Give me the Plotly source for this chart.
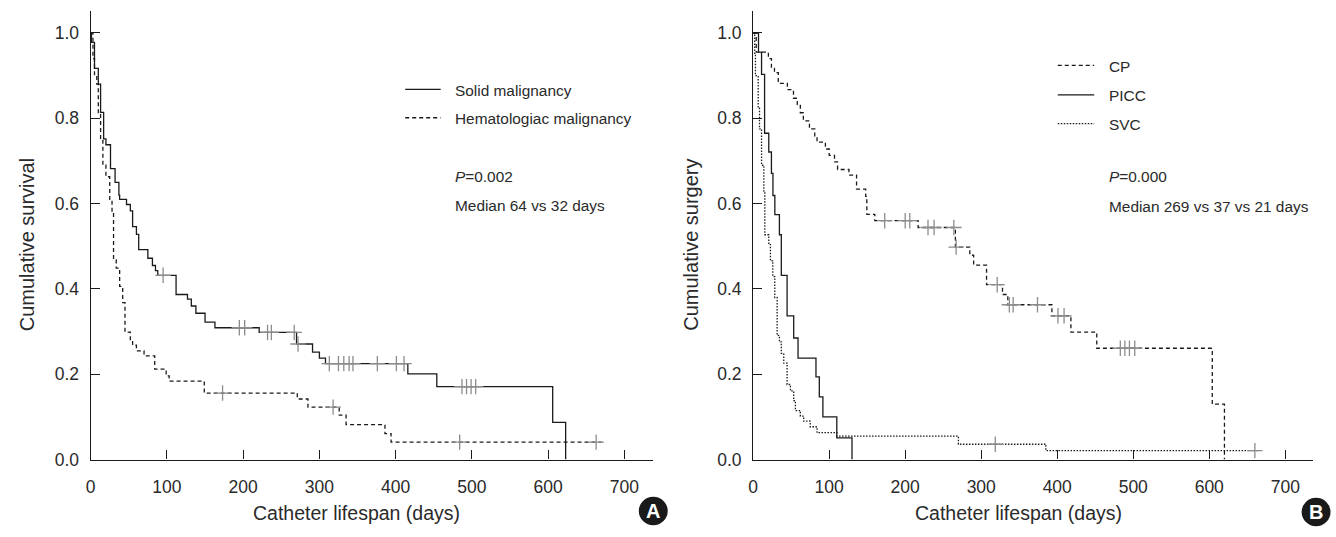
import numpy as np
import plotly.graph_objects as go

# ---------------- Data ----------------
# Panel A
solid_t = [0, 1, 5, 10, 13, 17, 20, 26, 32, 37, 38, 47, 52, 55, 60, 63, 75, 81, 85, 88,
           112, 127, 132, 138, 150, 163, 221, 270, 291, 300, 308, 416, 454, 606, 623]
solid_s = [1.0, 0.978, 0.917, 0.880, 0.814, 0.752, 0.738, 0.682, 0.650, 0.620, 0.610, 0.598,
           0.583, 0.546, 0.528, 0.492, 0.472, 0.455, 0.443, 0.432,
           0.387, 0.376, 0.360, 0.343, 0.322, 0.309, 0.298, 0.271, 0.252, 0.238, 0.225,
           0.201, 0.171, 0.087, 0.0]
solid_cens = [95, 195, 202, 232, 237, 267, 272, 313, 325, 332, 339, 344, 376, 401, 411,
              487, 493, 499, 505]

hema_t = [0, 3, 5, 8, 10, 13, 16, 20, 25, 28, 30, 33.5, 38, 42, 45, 52, 55, 60, 70, 84,
          99, 103, 149, 271, 285, 326, 335, 386, 394, 670]
hema_s = [1.0, 0.94, 0.90, 0.88, 0.81, 0.748, 0.69, 0.663, 0.61, 0.579, 0.468, 0.449, 0.406,
          0.368, 0.299, 0.281, 0.268, 0.255, 0.243, 0.212, 0.196, 0.184, 0.156, 0.142,
          0.123, 0.104, 0.082, 0.061, 0.041, 0.041]
hema_cens = [173, 318, 484, 663]

# Panel B
cp_t = [0, 4, 20, 24, 28, 33, 45, 53, 58, 62, 66, 74, 81, 84, 95, 100, 107, 111, 126, 136,
        148, 149.5, 160, 217, 266, 285, 290, 307, 328, 335, 393, 418, 452, 604, 620]
cp_s = [1.0, 0.955, 0.94, 0.92, 0.907, 0.882, 0.867, 0.847, 0.832, 0.813, 0.794, 0.775, 0.759,
        0.744, 0.728, 0.713, 0.698, 0.680, 0.667, 0.634, 0.617, 0.575, 0.560, 0.544, 0.498,
        0.479, 0.456, 0.410, 0.387, 0.363, 0.337, 0.299, 0.261, 0.130, 0.0]
cp_cens = [173, 200, 206, 230, 238, 264, 267, 321, 337, 342, 374, 401, 409, 483, 489, 495, 502]

picc_t = [0, 7, 11, 15, 20.5, 24, 26, 28.5, 34.5, 37, 44.6, 53.3, 59, 82.6, 87, 91.7, 110, 130]
picc_s = [1.0, 0.955, 0.903, 0.765, 0.721, 0.671, 0.619, 0.574, 0.527, 0.432, 0.337, 0.285,
          0.238, 0.194, 0.147, 0.100, 0.051, 0.0]

svc_t = [0, 2, 3, 6.6, 8.3, 11, 14, 15.3, 20.5, 22.7, 25.8, 28.4, 31.5, 34.5, 37, 40.2, 44.6,
         49, 53.3, 55.5, 62, 66.4, 75, 84, 110, 270, 385, 666]
svc_s = [1.0, 0.95, 0.90, 0.824, 0.775, 0.69, 0.625, 0.527, 0.504, 0.466, 0.429, 0.380, 0.291,
         0.276, 0.249, 0.226, 0.176, 0.161, 0.138, 0.115, 0.102, 0.090, 0.077, 0.063, 0.055,
         0.036, 0.021, 0.021]
svc_cens = [318.5, 660]

x_ticks = [0, 100, 200, 300, 400, 500, 600, 700]
y_ticks = [0.0, 0.2, 0.4, 0.6, 0.8, 1.0]

legend_a = ["Solid malignancy", "Hematologiac malignancy"]
legend_b = ["CP", "PICC", "SVC"]
stats_a = ["<i>P</i>=0.002", "Median 64 vs 32 days"]
stats_b = ["<i>P</i>=0.000", "Median 269 vs 37 vs 21 days"]

# ---------------- Styling ----------------
W, H = 1336, 537
FONT = "Liberation Sans, Arial, sans-serif"
LINE = "#1a1a1a"
CENS = "#8c8c8c"
TXT = "#2a2a2a"
DASH = "4px,3px"
DOT = "1.5px,1.5px"


def px(x):
    return x / W


def py(y):
    return 1 - y / H


def step_val(t, s, c):
    idx = np.searchsorted(np.asarray(t, float), c, side="right") - 1
    return np.asarray(s, float)[idx]


fig = go.Figure()


def add_curve(t, s, cens, dash, xa, ya):
    fig.add_trace(go.Scatter(x=t, y=s, mode="lines", line_shape="hv",
                             line=dict(color=LINE, width=1.3, dash=dash),
                             xaxis=xa, yaxis=ya, showlegend=False, hoverinfo="skip"))
    if cens:
        fig.add_trace(go.Scatter(x=cens, y=step_val(t, s, cens), mode="markers",
                                 marker=dict(symbol="cross-thin", size=11,
                                             line=dict(color=CENS, width=1.3)),
                                 xaxis=xa, yaxis=ya, showlegend=False, hoverinfo="skip"))


add_curve(solid_t, solid_s, solid_cens, "solid", "x", "y")
add_curve(hema_t, hema_s, hema_cens, DASH, "x", "y")
add_curve(cp_t, cp_s, cp_cens, DASH, "x2", "y2")
add_curve(picc_t, picc_s, [], "solid", "x2", "y2")
add_curve(svc_t, svc_s, svc_cens, DOT, "x2", "y2")

dom_y = [py(468.3), py(11)]
ax_common = dict(showline=True, linecolor=LINE, linewidth=1.3, ticks="inside",
                 ticklen=9, tickcolor=LINE, tickwidth=1.2, showgrid=False, zeroline=False,
                 tickfont=dict(family=FONT, size=17.5, color=TXT))
fig.update_layout(
    xaxis=dict(domain=[px(86), px(650)], range=[0, 737], tickvals=x_ticks,
               anchor="y", ticklabelstandoff=11, **ax_common),
    yaxis=dict(domain=dom_y, range=[0, 1.052], tickvals=y_ticks, tickformat=".1f",
               anchor="x", ticklabelstandoff=7, **ax_common),
    xaxis2=dict(domain=[px(751), px(1313.3)], range=[0, 737], tickvals=x_ticks,
                anchor="y2", ticklabelstandoff=11, **ax_common),
    yaxis2=dict(domain=dom_y, range=[0, 1.052], tickvals=y_ticks, tickformat=".1f",
                anchor="x2", ticklabelstandoff=7, **ax_common),
    width=W, height=H, margin=dict(l=0, r=0, t=0, b=0, pad=0),
    plot_bgcolor="white", paper_bgcolor="white", showlegend=False,
)

ann = []
shapes = []


def text(x, y, s, size=15.4, xanchor="left", angle=0, color=TXT):
    ann.append(dict(x=px(x), y=py(y), xref="paper", yref="paper", text=s,
                    showarrow=False, xanchor=xanchor, yanchor="middle", textangle=angle,
                    font=dict(family=FONT, size=size, color=color)))


def legline(x0, x1, y, dash):
    shapes.append(dict(type="line", xref="paper", yref="paper", x0=px(x0), x1=px(x1),
                       y0=py(y), y1=py(y), line=dict(color=LINE, width=1.3, dash=dash)))


# Axis titles
text(353, 523, "Catheter lifespan (days)", size=19.5, xanchor="center")
text(1017, 523, "Catheter lifespan (days)", size=19.5, xanchor="center")
text(22, 249, "Cumulative survival", size=20, xanchor="center", angle=-90)
text(689, 249, "Cumulative surgery", size=20, xanchor="center", angle=-90)

# Legend A
legline(401.7, 437.3, 91, "solid")
legline(401.7, 437.3, 120, DASH)
text(449.5, 92, legend_a[0])
text(449.5, 121, legend_a[1])
text(450, 179.5, stats_a[0])
text(450, 209, stats_a[1])

# Legend B
legline(1056.7, 1093.3, 66.7, DASH)
legline(1056.7, 1093.3, 96.7, "solid")
legline(1056.7, 1093.3, 126, DOT)
text(1106, 67.5, legend_b[0])
text(1106, 97.5, legend_b[1])
text(1106, 127, legend_b[2])
text(1106, 180, stats_b[0])
text(1106, 210, stats_b[1])

# Panel badges
for cx, cy, lab in [(650.7, 520.7, "A"), (1316, 521.7, "B")]:
    r = 14.5
    shapes.append(dict(type="circle", xref="paper", yref="paper",
                       x0=px(cx - r), x1=px(cx + r), y0=py(cy + r), y1=py(cy - r),
                       fillcolor="#1a1a1a", line=dict(width=0)))
    ann.append(dict(x=px(cx), y=py(cy), xref="paper", yref="paper", text="<b>%s</b>" % lab,
                    showarrow=False, xanchor="center", yanchor="middle",
                    font=dict(family=FONT, size=20, color="white")))

fig.update_layout(annotations=ann, shapes=shapes)

post = (
    "var de=document.documentElement, b=document.body;"
    "de.style.margin='0';de.style.padding='0';de.style.height='537px';de.style.overflow='hidden';"
    "b.style.margin='0';b.style.padding='0';b.style.height='537px';b.style.overflow='hidden';"
    "var gd=document.getElementById('{plot_id}');"
    "gd.style.position='fixed';gd.style.left='0px';gd.style.top='0px';"
)
fig.write_html("out.html", config={"displayModeBar": False}, post_script=post)
